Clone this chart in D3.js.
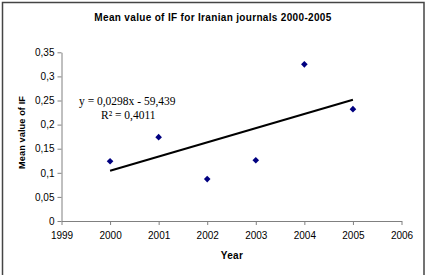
<!DOCTYPE html>
<html><head><meta charset="utf-8">
<script src="https://cdn.jsdelivr.net/npm/d3@7"></script>
<style>body{margin:0;background:#fff}svg{display:block}</style>
</head><body>
<script>
const years = [2000, 2001, 2002, 2003, 2004, 2005];
const meanIF = [0.124, 0.174, 0.087, 0.126, 0.325, 0.232];
const xTicks = [1999, 2000, 2001, 2002, 2003, 2004, 2005, 2006];
const yTicks = [0, 0.05, 0.1, 0.15, 0.2, 0.25, 0.3, 0.35];
const title = "Mean value of IF for Iranian journals 2000-2005";
const xTitle = "Year";
const yTitle = "Mean value of IF";
const eqText = "y = 0,0298x - 59,439";
const r2Text = "R² = 0,4011";

const W = 431, H = 275;
const svg = d3.select("body").append("svg").attr("width", W).attr("height", H);
svg.append("rect").attr("x", 2.5).attr("y", 2.5).attr("width", 421.5).attr("height", 275)
  .attr("fill", "#fff").attr("stroke", "#444").attr("stroke-width", 1.5);

const x = d3.scaleLinear().domain([1999, 2006]).range([61.5, 401.5]);
const y = d3.scaleLinear().domain([0, 0.35]).range([221, 52.3]);
const fmt = d => d3.format(".2~f")(d).replace(".", ",");

const gx = svg.append("g").attr("transform", `translate(0,${y(0)})`)
  .call(d3.axisBottom(x).tickValues(xTicks).tickFormat(d3.format("d")).tickSize(4).tickSizeOuter(0));
const gy = svg.append("g").attr("transform", `translate(${x(1999)},0)`)
  .call(d3.axisLeft(y).tickValues(yTicks).tickFormat(fmt).tickSize(4).tickSizeOuter(0));
[gx, gy].forEach(g => {
  g.selectAll("path,line").attr("stroke", "#808080");
  g.selectAll("text").attr("font-family", "Liberation Sans, Arial, sans-serif")
    .attr("font-size", 10).attr("fill", "#000");
});
gx.selectAll("text").attr("dy", "0.71em").attr("y", 11);
gy.selectAll("text").attr("x", -7);

// regression
const mx = d3.mean(years), my = d3.mean(meanIF);
const b = d3.sum(years.map((v, i) => (v - mx) * (meanIF[i] - my))) / d3.sum(years.map(v => (v - mx) ** 2));
const a = my - b * mx;
const x0 = d3.min(years), x1 = d3.max(years);
svg.append("line").attr("x1", x(x0)).attr("y1", y(a + b * x0)).attr("x2", x(x1)).attr("y2", y(a + b * x1))
  .attr("stroke", "#000").attr("stroke-width", 2);

svg.append("g").selectAll("path").data(years).join("path")
  .attr("transform", (d, i) => `translate(${x(d)},${y(meanIF[i])})`)
  .attr("d", d3.symbol(d3.symbolDiamond2, 28))
  .attr("fill", "#000080");

svg.append("text").attr("x", 213).attr("y", 21).attr("text-anchor", "middle")
  .attr("font-family", "Liberation Sans, Arial, sans-serif").attr("font-weight", "bold").attr("font-size", 10)
  .attr("letter-spacing", 0.33).text(title);
svg.append("text").attr("x", 232).attr("y", 259).attr("text-anchor", "middle")
  .attr("font-family", "Liberation Sans, Arial, sans-serif").attr("font-weight", "bold").attr("font-size", 10)
  .attr("letter-spacing", 0.3).text(xTitle);
svg.append("text").attr("transform", "translate(25,132.5) rotate(-90)").attr("text-anchor", "middle")
  .attr("font-family", "Liberation Sans, Arial, sans-serif").attr("font-weight", "bold").attr("font-size", 9.2)
  .attr("letter-spacing", 0.1).text(yTitle);
svg.append("text").attr("x", 79).attr("y", 105)
  .attr("font-family", "Liberation Serif, Times New Roman, serif").attr("font-size", 11.5).text(eqText);
svg.append("text").attr("x", 101).attr("y", 119)
  .attr("font-family", "Liberation Serif, Times New Roman, serif").attr("font-size", 11.5).text(r2Text);
</script>
</body></html>
